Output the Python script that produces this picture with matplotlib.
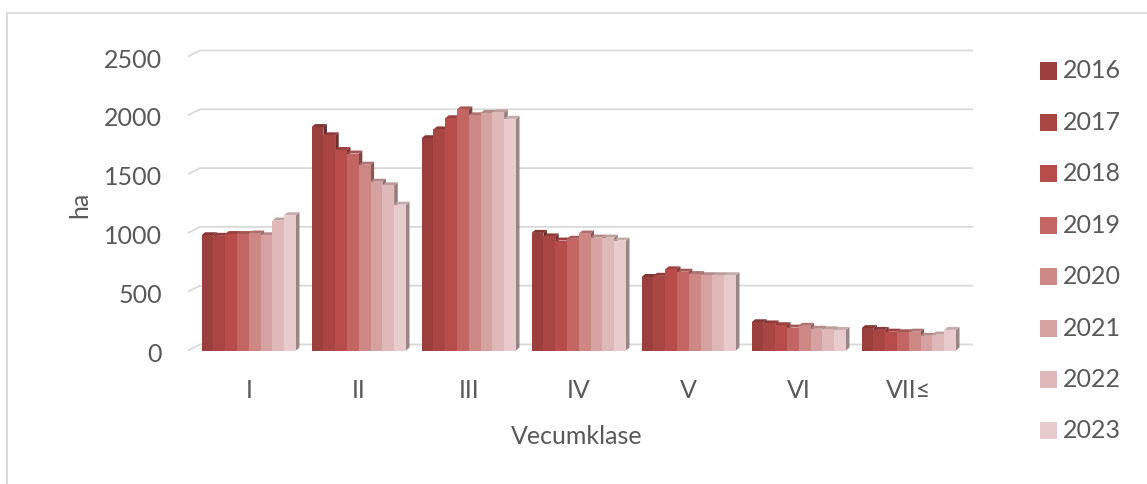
import matplotlib
matplotlib.use("Agg")
import matplotlib.pyplot as plt
from matplotlib.patches import Rectangle
from matplotlib.colors import to_rgb
import matplotlib.transforms as mtransforms
import numpy as np

plt.rcParams['font.family'] = ['Lato', 'DejaVu Sans']

# ---------------- data ----------------
categories = ["I", "II", "III", "IV", "V", "VI", "VII≤"]
years = ["2016", "2017", "2018", "2019", "2020", "2021", "2022", "2023"]
v2016 = [980, 1900, 1805, 1000, 625, 240, 190]
v2017 = [975, 1830, 1880, 970, 635, 230, 175]
v2018 = [990, 1705, 1975, 935, 690, 215, 160]
v2019 = [990, 1675, 2050, 950, 670, 195, 155]
v2020 = [995, 1580, 2000, 995, 650, 210, 160]
v2021 = [980, 1435, 2020, 960, 640, 185, 125]
v2022 = [1105, 1405, 2025, 960, 640, 180, 135]
v2023 = [1150, 1240, 1970, 935, 640, 175, 175]
series = [v2016, v2017, v2018, v2019, v2020, v2021, v2022, v2023]
colors = ["#9b3f3c", "#a94543", "#b84c4a", "#c36562",
          "#cd8886", "#d6a2a1", "#dfb9b9", "#e8cccd"]
yticks = [0, 500, 1000, 1500, 2000, 2500]

# ---------------- layout (pixels) ----------------
W, H = 1147, 484
DPI = 100
fig = plt.figure(figsize=(W / DPI, H / DPI), dpi=DPI)

px_per_cat = 110.0
cat0_px = 248.8
px_per_val = 0.1176
zero_px = 350.5          # front floor level (from top)
ax_l, ax_r, ax_t, ax_b = 188, 980, 40, 362

ax = fig.add_axes([ax_l / W, 1 - ax_b / H, (ax_r - ax_l) / W, (ax_b - ax_t) / H])
ax.set_xlim((ax_l - cat0_px) / px_per_cat, (ax_r - cat0_px) / px_per_cat)
ax.set_ylim((zero_px - ax_b) / px_per_val, (zero_px - ax_t) / px_per_val)
ax.axis('off')

# wall depth and bar depth in data units
wall_dx = 12 / px_per_cat
wall_dy = 6 / px_per_val
wall_front = (188 - cat0_px) / px_per_cat
grid_right = (973 - cat0_px) / px_per_cat
bar_dx = 3.5 / px_per_cat
bar_dy = 3.0 / px_per_val

grid_col = "#d9d9d9"
for t in yticks:
    ax.plot([wall_front, wall_front + wall_dx, grid_right],
            [t, t + wall_dy, t + wall_dy], color=grid_col, lw=1.3,
            zorder=0, solid_capstyle='butt')

# ---------------- bars ----------------
n = len(series)
bw = 11.8 / px_per_cat
x = np.arange(len(categories))


def shade(c, f):
    r, g, b = to_rgb(c)
    return (r * f, g * f, b * f)


for j, (vals, col) in enumerate(zip(series, colors)):
    xl = x - n * bw / 2 + j * bw
    xr = xl + bw
    base = 2 + 3 * j
    for k in range(len(categories)):
        v = vals[k]
        ax.fill([xr[k], xr[k], xr[k] + bar_dx, xr[k] + bar_dx],
                [0, v, v + bar_dy, bar_dy], color=shade(col, 0.66),
                lw=0, zorder=base)
        ax.fill([xl[k], xr[k], xr[k] + bar_dx, xl[k] + bar_dx],
                [v, v, v + bar_dy, v + bar_dy], color=shade(col, 0.85),
                lw=0, zorder=base + 1)
    ax.bar(xl, vals, width=bw, align='edge', color=col, lw=0,
           zorder=base + 2, label=years[j])

# ---------------- text ----------------
txt_col = "#595959"
fs = 18
for t in yticks:
    y_px = zero_px - t * px_per_val + 3.5
    fig.text(162 / W, 1 - y_px / H, str(t), ha='right', va='center',
             fontsize=fs, color=txt_col)
for k, c in enumerate(categories):
    ax.text(x[k], 0, c, ha='center', va='center', fontsize=fs, color=txt_col,
            transform=ax.transData + mtransforms.ScaledTranslation(0, -40 / DPI, fig.dpi_scale_trans))

fig.text(577 / W, 1 - 436 / H, "Vecumklase", ha='center', va='center',
         fontsize=fs, color=txt_col)
fig.text(80 / W, 1 - 205 / H, "ha", ha='center', va='center', rotation=90,
         fontsize=fs, color=txt_col)

# legend
for j, (yr, col) in enumerate(zip(years, colors)):
    yc = 71 + j * 51.4
    fig.add_artist(Rectangle((1040 / W, 1 - (yc + 8.5) / H), 17 / W, 17 / H,
                             transform=fig.transFigure, color=col, lw=0))
    fig.text(1063 / W, 1 - yc / H, yr, ha='left', va='center',
             fontsize=fs, color=txt_col)

# outer border
fig.add_artist(Rectangle((6.5 / W, -0.1), 1.2, 1 - 12.5 / H + 0.1,
                         transform=fig.transFigure, fill=False,
                         edgecolor="#d9d9d9", lw=1.3))

fig.savefig("out.png", dpi=DPI)
